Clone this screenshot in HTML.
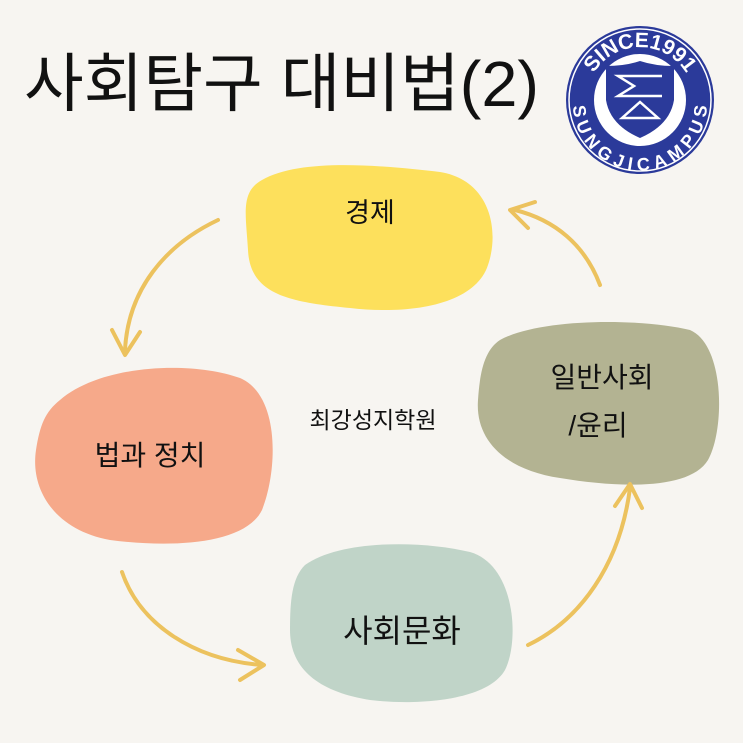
<!DOCTYPE html>
<html><head><meta charset="utf-8"><style>
html,body{margin:0;padding:0;background:#f7f5f1;}
svg{display:block}
text{font-family:"Liberation Sans","Noto Sans CJK KR",sans-serif;fill:#111;}
</style></head><body>
<svg width="743" height="743" viewBox="0 0 743 743" xmlns="http://www.w3.org/2000/svg">
<rect width="743" height="743" fill="#f7f5f1"/>
<text x="24" y="106" font-size="64" textLength="515" lengthAdjust="spacingAndGlyphs">사회탐구 대비법(2)</text>
<!-- logo -->
<circle cx="640" cy="100" r="74" fill="#2b3a9a"/>
<circle cx="640" cy="100" r="71" fill="none" stroke="#fff" stroke-width="1.5"/>
<circle cx="640" cy="100" r="46" fill="#fff"/>
<defs>
<path id="top" d="M 589 119 A 54 54 0 1 1 691 119"/>
<path id="bot" d="M 574 92 A 67 67 0 1 0 706 92"/>
</defs>
<text font-size="21" font-weight="700" style="fill:#fff"><textPath href="#top" startOffset="50%" text-anchor="middle">SINCE1991</textPath></text>
<text font-size="18" font-weight="700" style="fill:#fff"><textPath href="#bot" startOffset="50%" text-anchor="middle" textLength="205" lengthAdjust="spacing">SUNGJICAMPUS</textPath></text>
<path d="M606 66 Q625 66 640 61 Q655 66 674 66 L674 100 Q670 125 640 138 Q610 125 606 100 Z" fill="#2b3a9a"/>
<path d="M662 76 L618 76 L634 86 L618 96 L662 96" stroke="#fff" stroke-width="2.5" fill="none"/>
<path d="M622 118 L640 102 L658 118 Z" stroke="#fff" stroke-width="2.5" fill="none"/>
<!-- blobs -->
<path d="M262 180 C300 158 380 165 440 172 C490 180 500 230 488 265 C475 305 410 315 350 308 C290 302 250 295 248 250 C246 215 240 192 262 180 Z" fill="#fde05c"/>
<path d="M60 400 C100 365 190 360 240 378 C280 395 278 470 262 510 C245 545 170 548 110 540 C55 530 30 490 36 450 C40 425 45 412 60 400 Z" fill="#f6a98a"/>
<path d="M500 340 C540 318 640 318 690 330 C725 345 725 430 708 460 C690 490 620 488 560 478 C505 470 475 440 478 400 C480 370 485 350 500 340 Z" fill="#b3b392"/>
<path d="M305 565 C340 540 420 540 470 552 C515 565 520 640 505 670 C488 700 420 706 370 700 C320 692 290 670 290 630 C290 600 292 578 305 565 Z" fill="#c0d4c8"/>
<!-- labels -->
<text x="370" y="222" font-size="27" text-anchor="middle">경제</text>
<text x="150" y="465" font-size="28" text-anchor="middle">법과 정치</text>
<text x="602" y="387" font-size="28" text-anchor="middle">일반사회</text>
<text x="598" y="435" font-size="28" text-anchor="middle">/윤리</text>
<text x="402" y="642" font-size="32" text-anchor="middle">사회문화</text>
<text x="373" y="428" font-size="23" text-anchor="middle">최강성지학원</text>
<!-- arrows -->
<g fill="none" stroke="#ecc25e" stroke-width="4" stroke-linecap="round" stroke-linejoin="round">
<path d="M218 220 C165 245 128 290 125 350"/>
<path d="M112 330 L125 355 L140 332"/>
<path d="M600 285 C585 245 555 220 515 210"/>
<path d="M535 202 L510 210 L528 228"/>
<path d="M122 572 C140 625 195 660 262 665"/>
<path d="M238 650 L264 665 L240 680"/>
<path d="M528 645 C580 620 620 565 630 488"/>
<path d="M615 506 L630 484 L642 508"/>
</g>
</svg>
</body></html>
